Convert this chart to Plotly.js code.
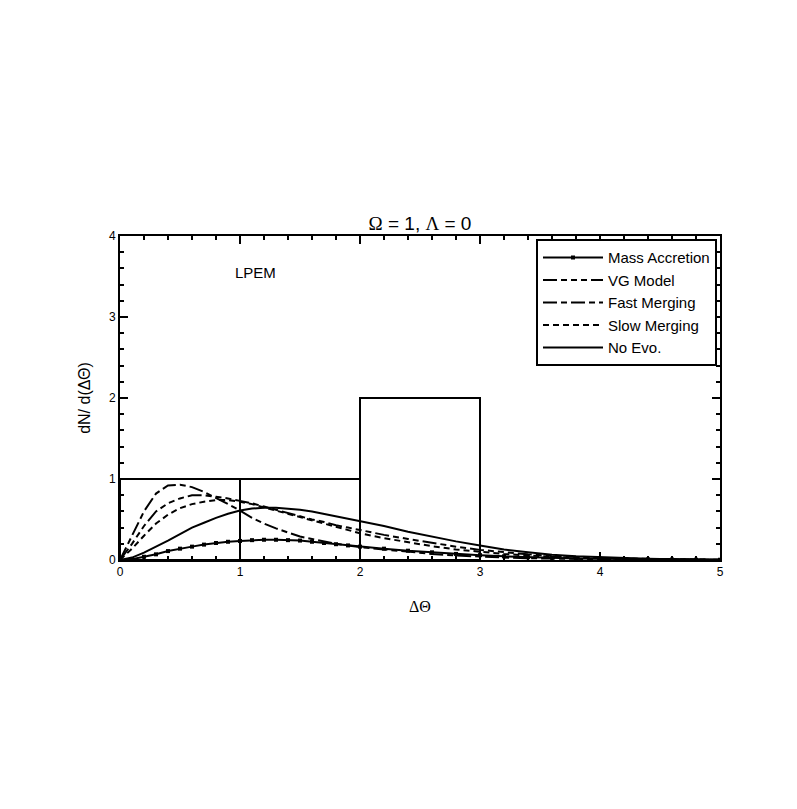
<!DOCTYPE html>
<html>
<head>
<meta charset="utf-8">
<script src="https://cdn.plot.ly/plotly-3.0.1.min.js"></script>
<style>html,body{margin:0;padding:0;background:#fff;}#chart{width:797px;height:809px;}</style>
</head>
<body>
<div id="chart"></div>
<script>
const dTheta = [0,0.1,0.2,0.3,0.4,0.5,0.6,0.7,0.8,0.9,1.0,1.1,1.2,1.3,1.4,1.5,1.6,1.7,1.8,1.9,2.0,2.2,2.4,2.6,2.8,3.0,3.2,3.4,3.6,3.8,4.0,4.2,4.4,4.6,4.8,5.0];
const massAccretion = [0,0.01,0.04,0.07,0.11,0.14,0.165,0.19,0.21,0.225,0.235,0.245,0.25,0.25,0.245,0.24,0.225,0.21,0.195,0.18,0.165,0.14,0.115,0.095,0.075,0.06,0.045,0.035,0.027,0.02,0.015,0.011,0.008,0.006,0.004,0.003];
const vgModel = [0,0.2,0.42,0.6,0.7,0.76,0.8,0.8,0.78,0.76,0.73,0.7,0.66,0.62,0.58,0.54,0.5,0.47,0.43,0.4,0.37,0.31,0.26,0.21,0.165,0.125,0.095,0.07,0.05,0.036,0.025,0.018,0.012,0.008,0.005,0.003];
const fastMerging = [0,0.3,0.6,0.82,0.92,0.93,0.9,0.84,0.77,0.69,0.61,0.52,0.45,0.39,0.34,0.29,0.26,0.23,0.2,0.18,0.16,0.13,0.1,0.075,0.055,0.04,0.03,0.022,0.016,0.011,0.008,0.006,0.004,0.003,0.002,0.001];
const slowMerging = [0,0.14,0.3,0.45,0.56,0.64,0.69,0.72,0.74,0.74,0.72,0.69,0.65,0.61,0.57,0.53,0.49,0.45,0.41,0.37,0.33,0.27,0.22,0.17,0.13,0.1,0.075,0.055,0.04,0.028,0.02,0.014,0.01,0.007,0.004,0.003];
const noEvo = [0,0.03,0.09,0.16,0.24,0.32,0.40,0.46,0.52,0.57,0.61,0.635,0.645,0.645,0.635,0.62,0.6,0.57,0.54,0.51,0.48,0.42,0.35,0.29,0.23,0.18,0.13,0.095,0.065,0.045,0.032,0.022,0.015,0.01,0.006,0.004];

const binCenters = [0.5,1.5,2.5];
const binCounts = [1,1,2];

const seriesNames = ["Mass Accretion","VG Model","Fast Merging","Slow Merging","No Evo."];

const SANS = 'Liberation Sans, Arial, sans-serif';

const traces = [
  {type:'bar', x:binCenters, y:binCounts, width:1, showlegend:false, hoverinfo:'skip',
   marker:{color:'rgba(0,0,0,0)', line:{color:'#000', width:2}}},
  {type:'scatter', mode:'lines+markers', x:dTheta, y:massAccretion, name:seriesNames[0],
   line:{color:'#000', width:2}, marker:{symbol:'square', size:4, color:'#000'}},
  {type:'scatter', mode:'lines', x:dTheta, y:vgModel, name:seriesNames[1],
   line:{color:'#000', width:2, dash:'14px,4px,6px,4px,6px,4px,6px,4px'}},
  {type:'scatter', mode:'lines', x:dTheta, y:fastMerging, name:seriesNames[2],
   line:{color:'#000', width:2, dash:'14px,4px,6px,4px'}},
  {type:'scatter', mode:'lines', x:dTheta, y:slowMerging, name:seriesNames[3],
   line:{color:'#000', width:2, dash:'6px,4px'}},
  {type:'scatter', mode:'lines', x:dTheta, y:noEvo, name:seriesNames[4],
   line:{color:'#000', width:2}}
];

const axisCommon = {
  showgrid:false, zeroline:false, showline:true, linecolor:'#000', linewidth:2,
  mirror:'ticks', ticks:'inside', ticklen:8, tickwidth:2, tickcolor:'#000',
  tickfont:{family:SANS, size:12, color:'#000'}
};

const layout = {
  width:797, height:809,
  margin:{l:120, r:77, t:236, b:249},
  paper_bgcolor:'#fff', plot_bgcolor:'#fff',
  title:{text:'<span style="font-family:Liberation Serif">Ω</span> = 1, <span style="font-family:Liberation Serif">Λ</span> = 0',
         font:{family:SANS, size:19, color:'#000'},
         x:0.5, xref:'paper', y:1, yref:'paper', yanchor:'bottom', pad:{b:6}},
  xaxis:Object.assign({}, axisCommon, {
    range:[0,5], dtick:1, tick0:0,
    minor:{dtick:0.2, ticklen:4, tickwidth:2, tickcolor:'#000', ticks:'inside'},
    title:{text:'<span style="font-family:Liberation Serif">ΔΘ</span>', font:{family:SANS, size:16, color:'#000'}, standoff:22}
  }),
  yaxis:Object.assign({}, axisCommon, {
    range:[0,4], dtick:1, tick0:0,
    minor:{dtick:0.2, ticklen:4, tickwidth:2, tickcolor:'#000', ticks:'inside'},
    title:{text:'dN/ d(ΔΘ)', font:{family:SANS, size:16, color:'#000'}, standoff:14}
  }),
  legend:{x:0.995, xanchor:'right', y:0.99, yanchor:'top', bgcolor:'#fff',
    bordercolor:'#000', borderwidth:2, tracegroupgap:0, itemwidth:60,
    font:{family:SANS, size:15, color:'#000'}},
  annotations:[{x:1.13, y:3.55, xref:'x', yref:'y', text:'LPEM', showarrow:false,
    font:{family:SANS, size:15, color:'#000'}}],
  bargap:0
};

Plotly.newPlot('chart', traces, layout, {staticPlot:true, displayModeBar:false});
</script>
</body>
</html>
